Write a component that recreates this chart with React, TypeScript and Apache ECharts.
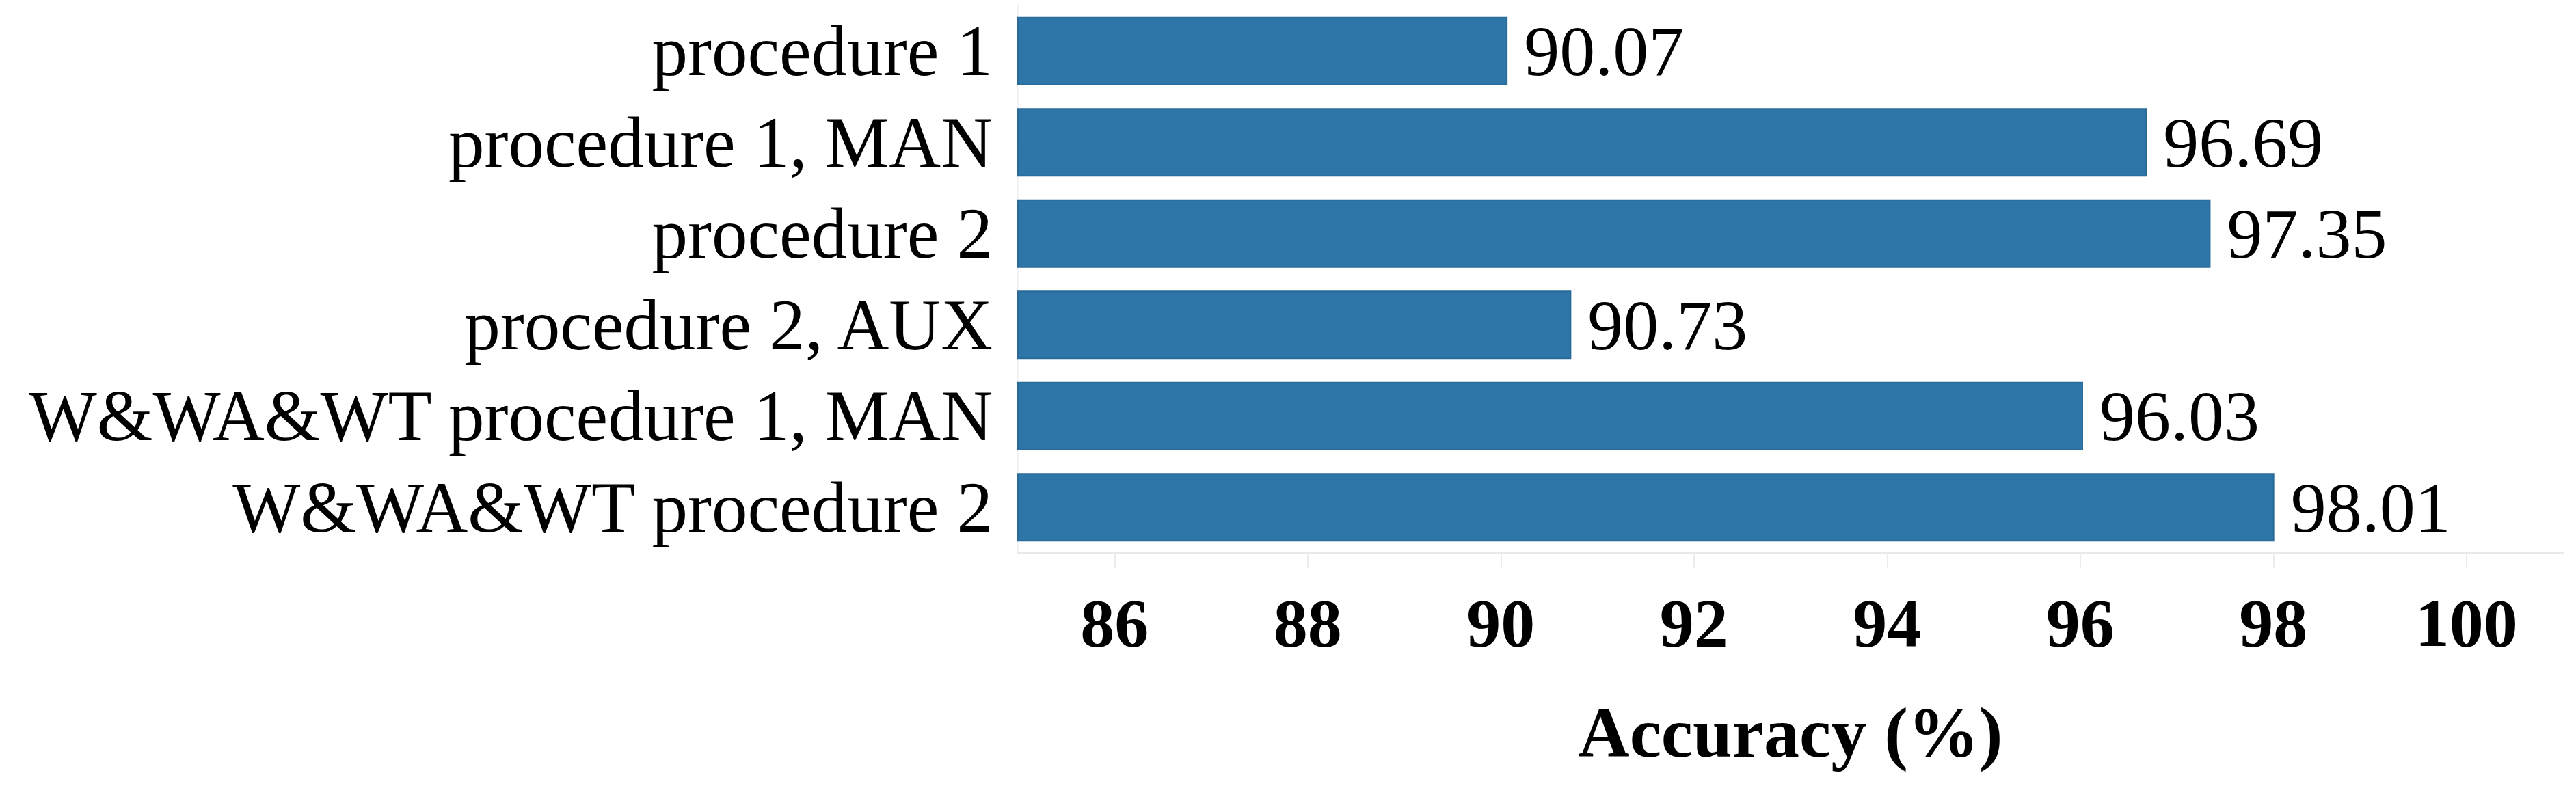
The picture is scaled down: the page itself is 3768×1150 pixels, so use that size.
import React, { useEffect, useRef } from "react";
import * as echarts from "echarts";

const categories = [
  "procedure 1",
  "procedure 1, MAN",
  "procedure 2",
  "procedure 2, AUX",
  "W&WA&WT procedure 1, MAN",
  "W&WA&WT procedure 2",
];
const accuracy = [90.07, 96.69, 97.35, 90.73, 96.03, 98.01];
const tickValues = [86, 88, 90, 92, 94, 96, 98, 100];
const axisTitle = "Accuracy (%)";

const SERIF = "'Times New Roman', 'Liberation Serif', serif";

export default function App() {
  const ref = useRef<HTMLDivElement>(null);
  useEffect(() => {
    if (!ref.current) return;
    const chart = echarts.init(ref.current, null, { renderer: "svg" });
    chart.setOption({
      animation: false,
      backgroundColor: "#ffffff",
      grid: { left: 1489, right: 19, top: 8, bottom: 341, containLabel: false },
      xAxis: {
        type: "value",
        min: 85,
        max: 101,
        name: axisTitle,
        nameLocation: "middle",
        nameGap: 210,
        nameTextStyle: { fontFamily: SERIF, fontWeight: "bold", fontSize: 104, color: "#000" },
        splitLine: { show: false },
        axisLine: { show: true, lineStyle: { color: "#e9e9e9", width: 3 } },
        axisTick: { show: true, customValues: tickValues, length: 22, lineStyle: { color: "#ececec", width: 2 } },
        axisLabel: {
          customValues: tickValues,
          fontFamily: SERIF,
          fontWeight: "bold",
          fontSize: 100,
          color: "#000",
          margin: 52,
        },
      },
      yAxis: {
        type: "category",
        data: categories,
        inverse: true,
        axisLine: { show: true, lineStyle: { color: "#f3f3f3", width: 2 } },
        axisTick: { show: false },
        splitLine: { show: false },
        axisLabel: { interval: 0, fontFamily: SERIF, fontSize: 105, color: "#000", margin: 37 },
      },
      series: [
        {
          type: "bar",
          data: accuracy,
          barCategoryGap: "25%",
          itemStyle: { color: "#2e76a8", borderColor: "#2a6a98", borderWidth: 2 },
          label: {
            show: true,
            position: "right",
            distance: 24,
            fontFamily: SERIF,
            fontSize: 104,
            color: "#000",
            formatter: (p: any) => Number(p.value).toFixed(2),
          },
        },
      ],
    });
    return () => chart.dispose();
  }, []);
  return (
    <div
      ref={ref}
      style={{ position: "fixed", left: 0, top: 0, width: 3768, height: 1150, background: "#fff" }}
    />
  );
}
